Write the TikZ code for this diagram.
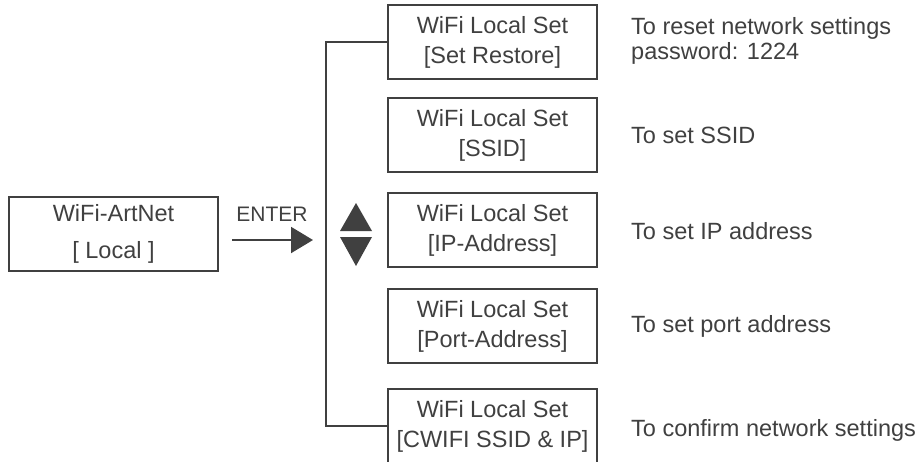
\documentclass[tikz,border=0pt]{standalone}
\usepackage{fontspec}
\setmainfont{Liberation Sans}
\usetikzlibrary{arrows.meta}
\begin{document}
\begin{tikzpicture}[x=1pt, y=-1pt]
\definecolor{MyGray}{RGB}{64, 64, 64}
\tikzset{
  menubox/.style = {draw=MyGray, line width=2.2pt, text=MyGray, minimum width=209pt,
    minimum height=74pt, inner sep=0pt, align=center, font=\fontsize{23.5}{30}\selectfont},
  note/.style = {anchor=west, text=MyGray, align=left, inner sep=0pt,
    font=\fontsize{23.5}{25}\selectfont},
  wire/.style = {draw=MyGray, line width=2pt}
}
\clip (0,0) rectangle (923,461);
\node[menubox] (artnet) at (113.5,234) {WiFi-ArtNet\\[7pt]{}[ Local ]};
\node[text=MyGray, inner sep=0pt, font=\fontsize{21}{21}\selectfont] (enter) at (272,214) {ENTER};
\coordinate (arrowstart) at (232,240);
\coordinate (arrowend) at (313,240);
\draw[wire, -{Triangle[length=22pt, width=26pt]}] (arrowstart) -- (arrowend);
% up / down keys
\fill[MyGray] (340,231) -- (356,203) -- (372,231) -- cycle;
\fill[MyGray] (340,237) -- (356,266) -- (372,237) -- cycle;
\foreach \n/\y/\lab in {1/42/Set Restore, 2/135/SSID, 3/230/IP-Address,
    4/326/Port-Address, 5/426/CWIFI SSID \& IP}{
\node[menubox] (set\n) at (492.5,\y) {WiFi Local Set\\{}[\lab]};
}
\node[note] (note1) at (631,41) {To reset network settings\\password: 1224};
\node[note] (note2) at (631,135) {To set SSID};
\node[note] (note3) at (631,231) {To set IP address};
\node[note] (note4) at (631,326) {To set port address};
\node[note] (note5) at (631,430) {To confirm network settings};
\draw[wire] (set1.west) -- ++(-61,0) |- (set5.west);
\end{tikzpicture}
\end{document}
